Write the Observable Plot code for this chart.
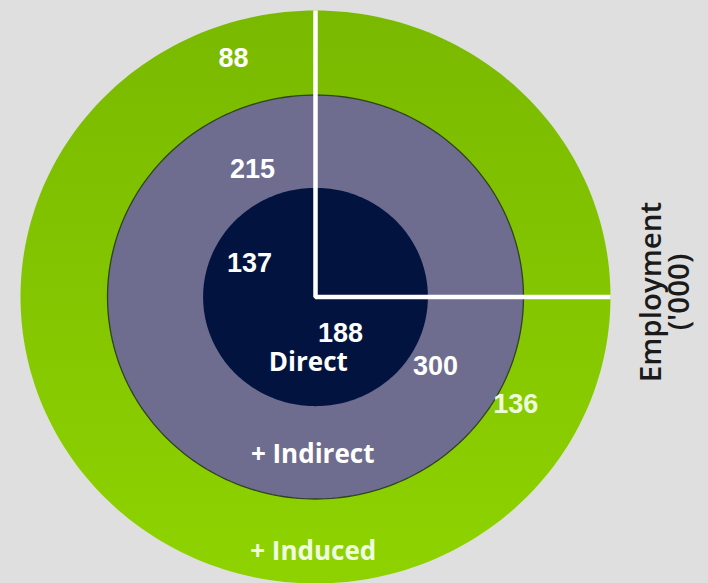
<!DOCTYPE html>
<html>
<head>
<meta charset="utf-8">
<script src="https://cdn.jsdelivr.net/npm/d3@7"></script>
<script src="https://cdn.jsdelivr.net/npm/@observablehq/plot@0.6"></script>
<style>
  html, body { margin: 0; padding: 0; background: #dfdfdf; }
  #chart { width: 708px; height: 583px; overflow: hidden; }
</style>
</head>
<body>
<div id="chart"></div>
<script>
// ---------- Data ----------
const rings = ["Direct", "+ Indirect", "+ Induced"];
const leftValues = [137, 215, 88];    // upper-left quadrant values
const rightValues = [188, 300, 136];  // lower-right quadrant values
const axisLabel = ["Employment", "('000)"];

// ---------- Layout (unit space: outer ring radius = 1) ----------
const ringRadius = [0.381, 0.705, 1];
const ringFill = ["#03133f", "#6e6d8f", "url(#greenGrad)"];
const leftPos  = [{r: 0.253, a: 152}, {r: 0.493, a: 115.7}, {r: 0.877, a: 108.5}];
const rightPos = [{r: 0.152, a: -56}, {r: 0.473, a: -30.6}, {r: 0.776, a: -29}];
const namePos  = [{r: 0.232, a: -96}, {r: 0.552, a: -91}, {r: 0.888, a: -90.5}];
const rightColor = ["#ffffff", "#ffffff", "#eefcdc"];
const nameColor  = ["#ffffff", "#ffffff", "#f0fde0"];

const polar = p => ({x: p.r * Math.cos(p.a * Math.PI / 180), y: p.r * Math.sin(p.a * Math.PI / 180)});

function ellipse(i) {
  const n = 240;
  return d3.range(n).map(k => {
    const t = (k / n) * 2 * Math.PI;
    return {ring: rings[i], x: ringRadius[i] * Math.cos(t), y: ringRadius[i] * Math.sin(t)};
  });
}

const leftLabels = leftValues.map((v, i) => ({text: String(v), ...polar(leftPos[i]), fill: "#ffffff"}));
const rightLabels = rightValues.map((v, i) => ({text: String(v), ...polar(rightPos[i]), fill: rightColor[i]}));
const nameLabels = rings.map((name, i) => ({text: name, ...polar(namePos[i]), fill: nameColor[i]}));

const R = ringRadius[2];
const quadrant = [{x: 0, y: R}, {x: 0, y: 0}, {x: R, y: 0}];

const defs = () => {
  const d = d3.create("svg:defs");
  const g = d.append("linearGradient").attr("id", "greenGrad")
    .attr("x1", 0).attr("y1", 0).attr("x2", 0).attr("y2", 1);
  g.append("stop").attr("offset", "0%").attr("stop-color", "#79b900");
  g.append("stop").attr("offset", "100%").attr("stop-color", "#8ed300");
  return d.node();
};

const ringMarks = [2, 1, 0].map(i =>
  Plot.line(ellipse(i), {
    x: "x", y: "y", curve: "linear-closed",
    fill: ringFill[i],
    stroke: i === 1 ? "#2f4320" : "none",
    strokeWidth: i === 1 ? 1.3 : 0
  })
);

const chart = Plot.plot({
  width: 708,
  height: 583,
  margin: 0,
  x: {domain: [-1, 1], range: [20, 610], axis: null},
  y: {domain: [-1, 1], range: [583, 10], axis: null},
  style: {background: "#dfdfdf", fontFamily: "'Liberation Sans', Arial, sans-serif", overflow: "hidden"},
  marks: [
    defs,
    ...ringMarks,
    Plot.line(quadrant, {x: "x", y: "y", stroke: "white", strokeWidth: 4.5, strokeLinejoin: "miter", strokeLinecap: "butt"}),
    Plot.text(leftLabels, {x: "x", y: "y", text: "text", fill: "fill", fontSize: 27, fontWeight: "bold"}),
    Plot.text(rightLabels, {x: "x", y: "y", text: "text", fill: "fill", fontSize: 27, fontWeight: "bold"}),
    Plot.text(nameLabels, {x: "x", y: "y", text: "text", fill: "fill", fontSize: 26, fontWeight: "bold", fontFamily: "'Open Sans', sans-serif"}),
    Plot.text([axisLabel.join("\n")], {
      frameAnchor: "right", dx: -42, rotate: -90, textAnchor: "middle", lineAnchor: "middle",
      fontSize: 29.5, lineHeight: 0.95, fill: "#1a1a1a", fontFamily: "'Open Sans', sans-serif", fontWeight: 600
    })
  ]
});

document.getElementById("chart").appendChild(chart);
</script>
</body>
</html>
